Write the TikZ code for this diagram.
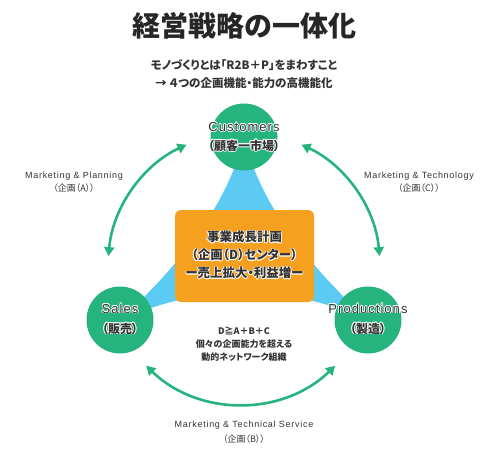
\documentclass[tikz,border=0pt]{standalone}
\usepackage{fontspec}
\setmainfont{Liberation Sans}[LetterSpace=8]
\newfontfamily\jp{Noto Sans CJK JP}[RawFeature=+palt]
\newfontfamily\jpt{Noto Sans CJK JP}
\usetikzlibrary{arrows.meta}
\definecolor{grn}{HTML}{25B47E}
\definecolor{sky}{HTML}{5CCBF4}
\definecolor{org}{HTML}{F6A01F}
\definecolor{ink}{HTML}{333333}
\newcommand\hw[3]{\rlap{\hspace*{#1}\raisebox{#2}{\color{white}#3}}}
\newcommand\halo[1]{\hw{.8pt}{0pt}{#1}\hw{-.8pt}{0pt}{#1}\hw{0pt}{.8pt}{#1}\hw{0pt}{-.8pt}{#1}\hw{.55pt}{.55pt}{#1}\hw{-.55pt}{.55pt}{#1}\hw{.55pt}{-.55pt}{#1}\hw{-.55pt}{-.55pt}{#1}#1}
\newcommand\jb{\jp\bfseries\fontsize{12}{19}\selectfont}
\begin{document}
\begin{tikzpicture}[x=1pt,y=-1pt,
  lbl/.style={text=ink, align=center, inner sep=0pt},
  arr/.style={grn, line width=2.6pt, {Triangle[length=9pt,width=10pt]}-{Triangle[length=9pt,width=10pt]}},
  circ/.style={circle, fill=grn, minimum size=67pt, inner sep=0pt}]
\useasboundingbox (0,0) rectangle (500,455);
% blue concave triangle
\fill[sky] (244,137) .. controls (230.2,196) and (188.9,257.1) .. (120,320)
  .. controls (202.7,283.3) and (285.3,283.3) .. (368,320)
  .. controls (299.1,257.1) and (257.8,196) .. (244,137) -- cycle;
% arrow end points
\coordinate (a1) at (186.5,144.7);
\coordinate (c1) at (301.5,144.7);
\coordinate (b1) at (146.2,365.8);
\draw[arr] (a1) arc[start angle=-115, end angle=-175, radius=136];
\draw[arr] (c1) arc[start angle=-65, end angle=-5, radius=136];
\draw[arr] (b1) arc[start angle=134, end angle=46, radius=136];
% circles
\node[circ] (cu) at (244,137) {};
\node[circ] (sa) at (120,320) {};
\node[circ] (pr) at (368,320) {};
% box
\node[fill=org, rounded corners=6pt, minimum width=139pt, minimum height=92pt, inner sep=0pt] (bx) at (244.5,256) {};
% title
\node[font=\jpt\bfseries\fontsize{28}{30}\selectfont, text=black!85, inner sep=0pt] (ti) at (244,26) {経営戦略の一体化};
\node[lbl, font=\jp\bfseries\fontsize{11.5}{18}\selectfont] (st) at (244,74) {モノづくりとは「R2B＋P」をまわすこと\\→ ４つの企画機能・能力の高機能化};
% circle labels
\node[lbl, font=\fontsize{13}{19}\selectfont] (tcu) at (cu) {\halo{Customers}\\\halo{{\jb （顧客一市場）}}};
\node[lbl, font=\fontsize{13}{20}\selectfont] (tsa) at (120,319) {\halo{Sales}\\\halo{{\jb （販売）}}};
\node[lbl, font=\fontsize{13}{20}\selectfont] (tpr) at (368,319) {\halo{Productions}\\\halo{{\jb （製造）}}};
% box text
\node[lbl, font=\jp\bfseries\fontsize{12.5}{18}\selectfont] (tbx) at (244.5,255) {\halo{事業成長計画}\\\halo{（企画（D）センター）}\\\halo{ー売上拡大・利益増ー}};
% centre text
\node[lbl, font=\jp\bfseries\fontsize{9}{13}\selectfont] (dd) at (244,344) {D≧A＋B＋C\\個々の企画能力を超える\\動的ネットワーク組織};
% arrow labels
\node[lbl, font=\fontsize{9}{12.5}\selectfont] (lA) at (74,182) {Marketing \& Planning\\{\jp （企画（A））}};
\node[lbl, font=\fontsize{9}{13}\selectfont] (lC) at (419,182.5) {Marketing \& Technology\\{\jp （企画（C））}};
\node[lbl, font=\fontsize{9}{15}\selectfont] (lB) at (244,432.5) {Marketing \& Technical Service\\{\jp （企画（B））}};
\end{tikzpicture}
\end{document}
